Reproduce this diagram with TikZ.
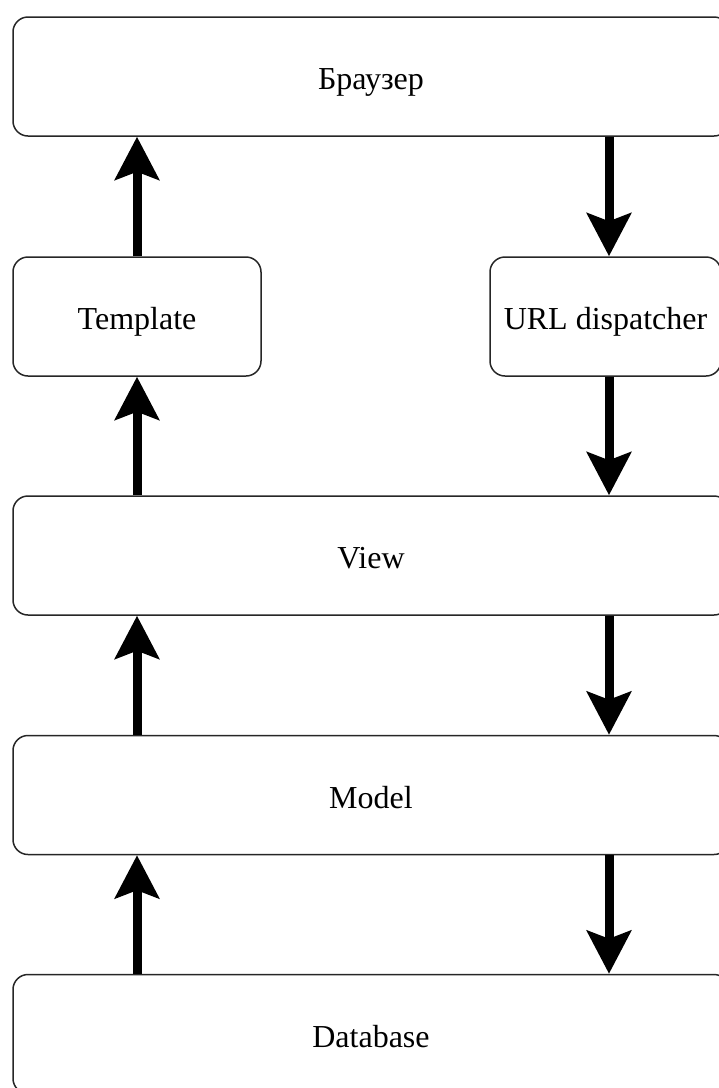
\documentclass[tikz,border=0pt]{standalone}
\usepackage{fontspec}
\setmainfont{Liberation Serif}
\usetikzlibrary{arrows.meta}
\begin{document}
\begin{tikzpicture}[x=1pt,y=-1pt,
  box/.style={draw=black!85, line width=1.5pt, rounded corners=15pt, fill=white,
    inner sep=0pt, text height=26pt, text depth=0pt, font=\fontsize{32}{38}\selectfont},
  wide/.style={box, minimum width=716pt, minimum height=119pt},
  small/.style={box, minimum height=119pt},
  flow/.style={line width=9pt, -{Stealth[length=43pt,width=44pt,inset=8pt]}}]
\useasboundingbox (0,0) rectangle (719,1088);
\clip (0,0) rectangle (719,1088);
\coordinate (L) at (137,0);
\coordinate (R) at (609,0);
\node[wide] (br) at (371,76.5) {Браузер};
\node[small, minimum width=248pt] (tpl) at (137,316.5) {Template};
\node[small, minimum width=231pt] (url) at (605.5,316.5) {URL dispatcher};
\node[wide] (view) at (371,555.5) {View};
\node[wide] (model) at (371,795) {Model};
\node[wide] (db) at (371,1034) {Database};
\draw[flow] (tpl.north -| L) -- (br.south -| L);
\draw[flow] (br.south -| R) -- (url.north -| R);
\draw[flow] (url.south -| R) -- (view.north -| R);
\draw[flow] (view.north -| L) -- (tpl.south -| L);
\draw[flow] (view.south -| R) -- (model.north -| R);
\draw[flow] (model.north -| L) -- (view.south -| L);
\draw[flow] (model.south -| R) -- (db.north -| R);
\draw[flow] (db.north -| L) -- (model.south -| L);
\end{tikzpicture}
\end{document}
